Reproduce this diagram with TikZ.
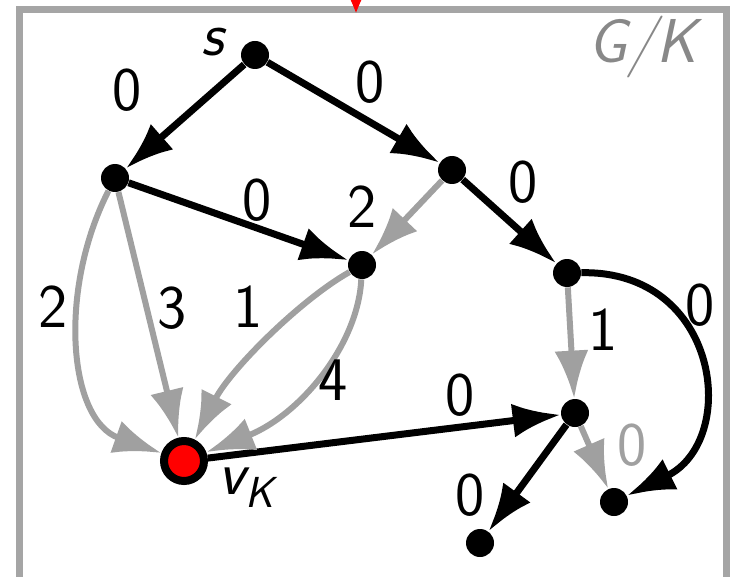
\documentclass[tikz,border=0pt]{standalone}
\usepackage{fontspec}
\usetikzlibrary{arrows.meta}
\definecolor{edgegray}{RGB}{160,160,160}
\definecolor{framegray}{RGB}{165,165,165}
\definecolor{titlegray}{RGB}{136,136,136}
\definecolor{markred}{RGB}{255,0,0}
\tikzset{
  vertex/.style={circle, fill=black, inner sep=0pt, minimum size=14pt},
  target/.style={circle, fill=markred, draw=black, line width=4pt, inner sep=0pt, minimum size=20pt},
  tight/.style={-{Latex[length=24pt,width=17pt]}, line width=3.5pt, black},
  loose/.style={tight, edgegray, line width=3pt},
  weight/.style={font=\sffamily\fontsize{31}{36}\selectfont, inner sep=0pt},
  slanted/.style={font=\sffamily\itshape\fontsize{31}{36}\selectfont, inner sep=0pt},
}

\begin{document}
\begin{tikzpicture}[x=0.5pt,y=-0.5pt]
  \useasboundingbox (0,0) rectangle (732,577);
  \clip (0,0) rectangle (732,577);

  % Frame
  \draw[framegray, line width=3.5pt] (19,10) rectangle (726,640);
  \node[slanted, titlegray] (title) at (643,47) {G/K};

  % Vertices
  \node[vertex] (s) at (255,55) {};
  \node[vertex] (a) at (115,178) {};
  \node[vertex] (b) at (452,170) {};
  \node[vertex] (c) at (362,265) {};
  \node[vertex] (d) at (567,273) {};
  \node[vertex] (e) at (575,413) {};
  \node[vertex] (f) at (614,502) {};
  \node[vertex] (g) at (480,543) {};
  \node[target] (vK) at (184,461) {};
  \node[slanted] (s-name) at (213,42) {s};
  \node[slanted] (vK-name) at (247,488) {v\textsubscript{K}};

  % Incoming arrow
  \coordinate (from) at (356,-60);
  \coordinate (entry) at (356,13);
  \draw[markred, line width=3.5pt, -{Latex[length=22pt,width=26pt]}] (from) -- (entry);

  % Black edges
  \draw[tight] (s) -- (a);
  \draw[tight] (s) -- (b);
  \draw[tight] (a) -- (c);
  \draw[tight] (b) -- (d);
  \draw[tight] (vK) -- (e);
  \draw[tight] (e) -- (g);
  \draw[tight] (d) .. controls (720,270) and (740,440) .. (f);

  % Gray edges
  \draw[loose] (b) -- (c);
  \draw[loose] (a) .. controls (58,290) and (68,420) .. (vK);
  \draw[loose] (a) -- (vK);
  \draw[loose] (c) .. controls (300,300) and (230,370) .. (vK);
  \draw[loose] (c) .. controls (358,345) and (300,415) .. (vK);
  \draw[loose] (d) -- (e);
  \draw[loose] (e) -- (f);

  % Weights
  \node[weight] (w-sa) at (127,90) {0};
  \node[weight] (w-sb) at (370,82) {0};
  \node[weight] (w-ac) at (257,200) {0};
  \node[weight] (w-bc) at (362,207) {2};
  \node[weight] (w-bd) at (523,182) {0};
  \node[weight] (w-av1) at (53,307) {2};
  \node[weight] (w-av2) at (172,308) {3};
  \node[weight] (w-cv1) at (248,307) {1};
  \node[weight] (w-cv2) at (333,380) {4};
  \node[weight] (w-ve) at (460,395) {0};
  \node[weight] (w-de) at (603,330) {1};
  \node[weight] (w-df) at (700,305) {0};
  \node[weight, edgegray] (w-ef) at (632,445) {0};
  \node[weight] (w-eg) at (470,495) {0};
\end{tikzpicture}
\end{document}
